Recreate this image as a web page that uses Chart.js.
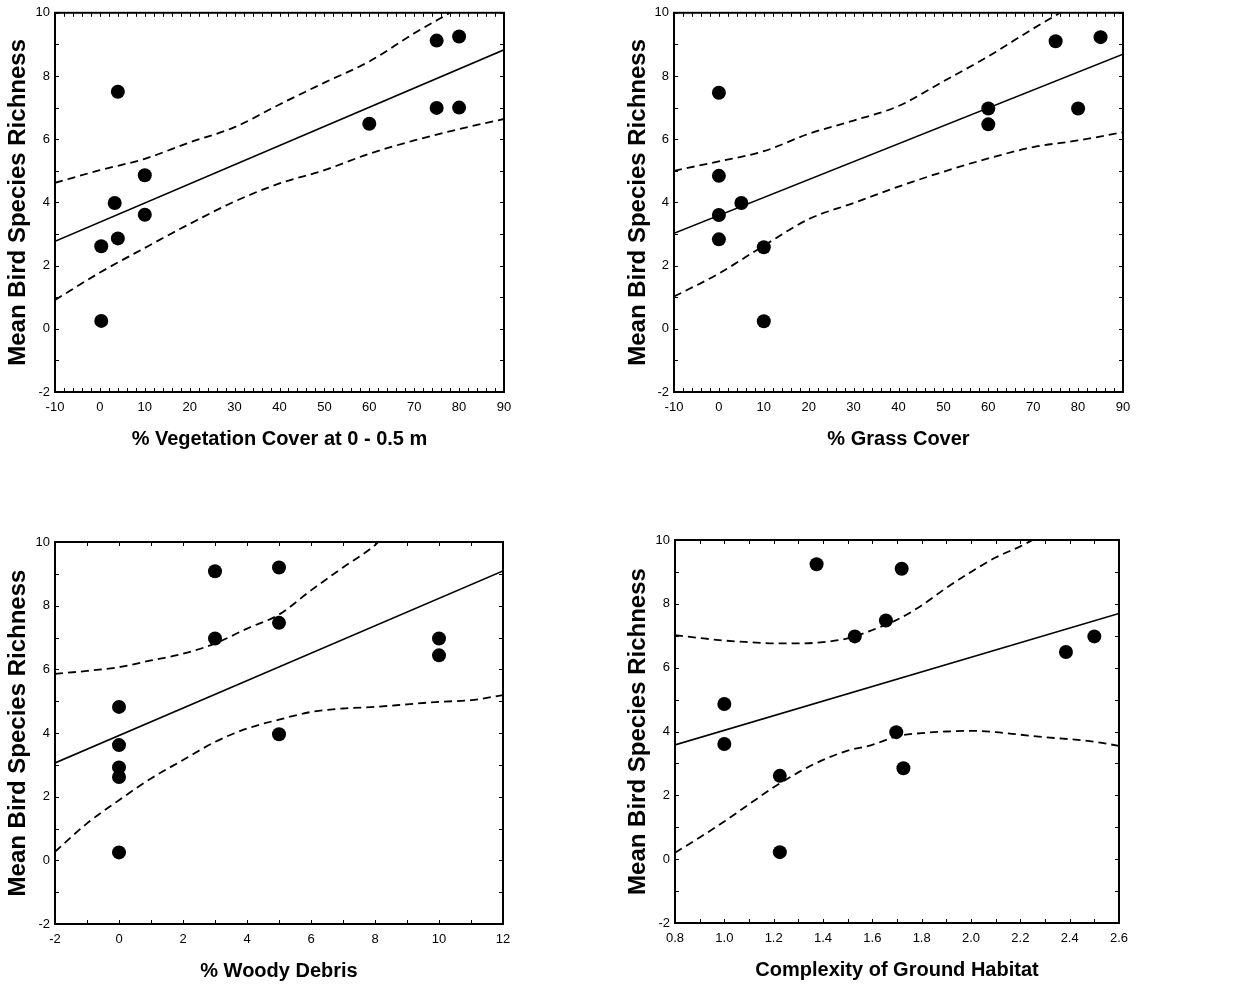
<!DOCTYPE html>
<html>
<head>
<meta charset="utf-8">
<script src="https://cdn.jsdelivr.net/npm/chart.js@4.4.1/dist/chart.umd.min.js"></script>
<style>
  body { margin: 0; background: #fff; }
  #wrap { position: relative; width: 1245px; height: 986px; }
  canvas { position: absolute; }
</style>
</head>
<body>
<div id="wrap">
  <canvas id="vegChart" width="620" height="493" style="left:0;top:0"></canvas>
  <canvas id="grassChart" width="625" height="493" style="left:620px;top:0"></canvas>
  <canvas id="woodyChart" width="620" height="493" style="left:0;top:493px"></canvas>
  <canvas id="complexChart" width="625" height="493" style="left:620px;top:493px"></canvas>
</div>
<script>
// Mean bird species richness per site (same 12 sites in every panel)
const vegX = [4, 10, 3.3, 10, 4, 0.3, 0.3, 60, 75, 80, 75, 80];
const vegY = [7.5, 4.86, 3.98, 3.61, 2.86, 2.61, 0.25, 6.49, 9.12, 9.25, 6.99, 7.0];
const vegFitX = [-10, 90];
const vegFitY = [2.77, 8.83];
const vegUpperX = [-10, 0, 10, 20, 30, 40, 50, 60, 70, 78];
const vegUpperY = [4.62, 5.02, 5.38, 5.9, 6.38, 7.1, 7.79, 8.46, 9.35, 10.0];
const vegLowerX = [-10, 0, 10, 20, 30, 40, 50, 60, 70, 80, 90];
const vegLowerY = [0.91, 1.78, 2.56, 3.32, 4.03, 4.6, 5.02, 5.54, 5.96, 6.32, 6.64];

const grassX = [0, 0, 0, 0, 5, 10, 10, 60, 60, 75, 85, 80];
const grassY = [7.47, 4.84, 3.6, 2.83, 3.98, 2.58, 0.24, 6.97, 6.47, 9.1, 9.23, 6.97];
const grassFitX = [-10, 90];
const grassFitY = [3.02, 8.69];
const grassUpperX = [-10, 0, 10, 20, 30, 40, 50, 60, 70, 76];
const grassUpperY = [5.0, 5.3, 5.62, 6.17, 6.59, 7.05, 7.83, 8.62, 9.5, 10.0];
const grassLowerX = [-10, 0, 10, 20, 30, 40, 50, 60, 70, 80, 90];
const grassLowerY = [1.02, 1.75, 2.63, 3.47, 3.98, 4.5, 4.97, 5.39, 5.75, 5.96, 6.22];

const woodyX = [0, 0, 0, 0, 0, 3, 3, 5, 5, 5, 10, 10];
const woodyY = [4.82, 3.62, 2.92, 2.62, 0.25, 9.08, 6.97, 9.2, 7.46, 3.96, 6.97, 6.44];
const woodyFitX = [-2, 12];
const woodyFitY = [3.06, 9.09];
const woodyUpperX = [-2, -1, 0, 1, 2, 3, 4, 5, 6, 7, 8, 8.2];
const woodyUpperY = [5.86, 5.95, 6.07, 6.28, 6.49, 6.81, 7.28, 7.72, 8.48, 9.2, 9.9, 10.1];
const woodyLowerX = [-2, -1, 0, 1, 2, 3, 4, 5, 6, 7, 8, 9, 10, 11, 12];
const woodyLowerY = [0.27, 1.16, 1.89, 2.57, 3.15, 3.72, 4.14, 4.42, 4.66, 4.77, 4.82, 4.9, 4.98, 5.03, 5.19];

const complexX = [1.0, 1.0, 1.225, 1.225, 1.374, 1.719, 1.529, 1.655, 1.697, 1.726, 2.385, 2.5];
const complexY = [4.86, 3.61, 2.61, 0.22, 9.24, 9.1, 6.98, 7.48, 3.98, 2.85, 6.49, 6.98];
const complexFitX = [0.8, 2.6];
const complexFitY = [3.58, 7.7];
const complexUpperX = [0.8, 0.9, 1.0, 1.1, 1.2, 1.3, 1.4, 1.5, 1.6, 1.7, 1.8, 1.9, 2.0, 2.1, 2.2, 2.25];
const complexUpperY = [7.02, 6.93, 6.85, 6.8, 6.76, 6.76, 6.8, 6.92, 7.18, 7.5, 7.95, 8.5, 9.0, 9.45, 9.8, 10.0];
const complexLowerX = [0.8, 0.9, 1.0, 1.1, 1.2, 1.3, 1.4, 1.5, 1.6, 1.7, 1.8, 1.9, 2.0, 2.1, 2.2, 2.3, 2.4, 2.5, 2.6];
const complexLowerY = [0.2, 0.68, 1.18, 1.72, 2.25, 2.72, 3.11, 3.4, 3.58, 3.85, 3.95, 4.0, 4.02, 3.98, 3.9, 3.82, 3.76, 3.68, 3.55];

const yTitle = 'Mean Bird Species Richness';
const FONT = "'Liberation Sans', Arial, sans-serif";

function toPoints(xs, ys) {
    return xs.map((x, i) => ({ x: x, y: ys[i] }));
}

// frame round the plot area with small inward ticks on all four sides
const framePlugin = {
    id: 'frame',
    afterDatasetsDraw(chart, args, opts) {
        const { ctx, chartArea: a, scales } = chart;
        ctx.save();
        ctx.strokeStyle = '#000';
        ctx.lineWidth = 1;
        const len = 4;
        const xs = scales.x, ys = scales.y;
        let n = Math.round((xs.max - xs.min) / opts.xStep);
        ctx.beginPath();
        for (let i = 0; i <= n; i++) {
            const px = Math.round(xs.getPixelForValue(xs.min + i * opts.xStep)) + 0.5;
            ctx.moveTo(px, a.bottom); ctx.lineTo(px, a.bottom - len);
            ctx.moveTo(px, a.top); ctx.lineTo(px, a.top + len);
        }
        n = Math.round((ys.max - ys.min) / opts.yStep);
        for (let i = 0; i <= n; i++) {
            const py = Math.round(ys.getPixelForValue(ys.min + i * opts.yStep)) + 0.5;
            ctx.moveTo(a.left, py); ctx.lineTo(a.left + len, py);
            ctx.moveTo(a.right, py); ctx.lineTo(a.right - len, py);
        }
        ctx.stroke();
        ctx.lineWidth = 2;
        ctx.strokeRect(a.left, a.top, a.right - a.left, a.bottom - a.top);
        ctx.restore();
    }
};

function renderPanel(id, p) {
    const ctx = document.getElementById(id).getContext('2d');
    new Chart(ctx, {
        type: 'scatter',
        data: {
            datasets: [
                {
                    data: toPoints(p.x, p.y),
                    pointRadius: 7,
                    pointHoverRadius: 7,
                    backgroundColor: '#000',
                    borderWidth: 0,
                    showLine: false
                },
                {
                    data: toPoints(p.fitX, p.fitY),
                    showLine: true,
                    pointRadius: 0,
                    borderColor: '#000',
                    borderWidth: 1.6
                },
                {
                    data: toPoints(p.upperX, p.upperY),
                    showLine: true,
                    pointRadius: 0,
                    borderColor: '#000',
                    borderWidth: 1.8,
                    borderDash: [8, 5],
                    cubicInterpolationMode: 'monotone'
                },
                {
                    data: toPoints(p.lowerX, p.lowerY),
                    showLine: true,
                    pointRadius: 0,
                    borderColor: '#000',
                    borderWidth: 1.8,
                    borderDash: [8, 5],
                    cubicInterpolationMode: 'monotone'
                }
            ]
        },
        options: {
            responsive: false,
            animation: false,
            devicePixelRatio: 1,
            layout: {
                padding: { left: 0, top: p.padTop, right: p.padRight, bottom: p.padBottom }
            },
            plugins: {
                legend: { display: false },
                tooltip: { enabled: false },
                frame: { xStep: p.xMinor, yStep: 1 }
            },
            scales: {
                x: {
                    type: 'linear',
                    min: p.xMin,
                    max: p.xMax,
                    grid: { display: false, drawTicks: false, tickLength: 0 },
                    border: { display: false },
                    ticks: {
                        stepSize: p.xStep,
                        padding: 8,
                        color: '#000',
                        maxRotation: 0,
                        font: { family: FONT, size: 13 },
                        callback: v => p.xDecimals ? v.toFixed(p.xDecimals) : Math.round(v)
                    },
                    title: {
                        display: true,
                        text: p.xTitle,
                        color: '#000',
                        font: { family: FONT, size: 20, weight: 'bold' },
                        padding: { top: 0, bottom: 3 }
                    },
                    afterFit: s => { s.height = 62; }
                },
                y: {
                    type: 'linear',
                    min: -2,
                    max: 10,
                    grid: { display: false, drawTicks: false, tickLength: 0 },
                    border: { display: false },
                    ticks: {
                        stepSize: 2,
                        padding: 5,
                        color: '#000',
                        font: { family: FONT, size: 13 }
                    },
                    title: {
                        display: true,
                        text: yTitle,
                        color: '#000',
                        font: { family: FONT, size: 24, weight: 'bold' },
                        padding: { top: 4, bottom: 0 }
                    },
                    afterFit: s => { s.width = p.axisLeft; }
                }
            }
        },
        plugins: [framePlugin]
    });
}

renderPanel('vegChart', {
    x: vegX, y: vegY, fitX: vegFitX, fitY: vegFitY,
    upperX: vegUpperX, upperY: vegUpperY, lowerX: vegLowerX, lowerY: vegLowerY,
    xMin: -10, xMax: 90, xStep: 10, xMinor: 2, xDecimals: 0,
    xTitle: '% Vegetation Cover at 0 - 0.5 m',
    axisLeft: 55, padTop: 9, padRight: 116, padBottom: 39
});

renderPanel('grassChart', {
    x: grassX, y: grassY, fitX: grassFitX, fitY: grassFitY,
    upperX: grassUpperX, upperY: grassUpperY, lowerX: grassLowerX, lowerY: grassLowerY,
    xMin: -10, xMax: 90, xStep: 10, xMinor: 2, xDecimals: 0,
    xTitle: '% Grass Cover',
    axisLeft: 54, padTop: 8, padRight: 122, padBottom: 39
});

renderPanel('woodyChart', {
    x: woodyX, y: woodyY, fitX: woodyFitX, fitY: woodyFitY,
    upperX: woodyUpperX, upperY: woodyUpperY, lowerX: woodyLowerX, lowerY: woodyLowerY,
    xMin: -2, xMax: 12, xStep: 2, xMinor: 1, xDecimals: 0,
    xTitle: '% Woody Debris',
    axisLeft: 55, padTop: 49, padRight: 117, padBottom: 0
});

renderPanel('complexChart', {
    x: complexX, y: complexY, fitX: complexFitX, fitY: complexFitY,
    upperX: complexUpperX, upperY: complexUpperY, lowerX: complexLowerX, lowerY: complexLowerY,
    xMin: 0.8, xMax: 2.6, xStep: 0.2, xMinor: 0.1, xDecimals: 1,
    xTitle: 'Complexity of Ground Habitat',
    axisLeft: 55, padTop: 47, padRight: 126, padBottom: 1
});
</script>
</body>
</html>
